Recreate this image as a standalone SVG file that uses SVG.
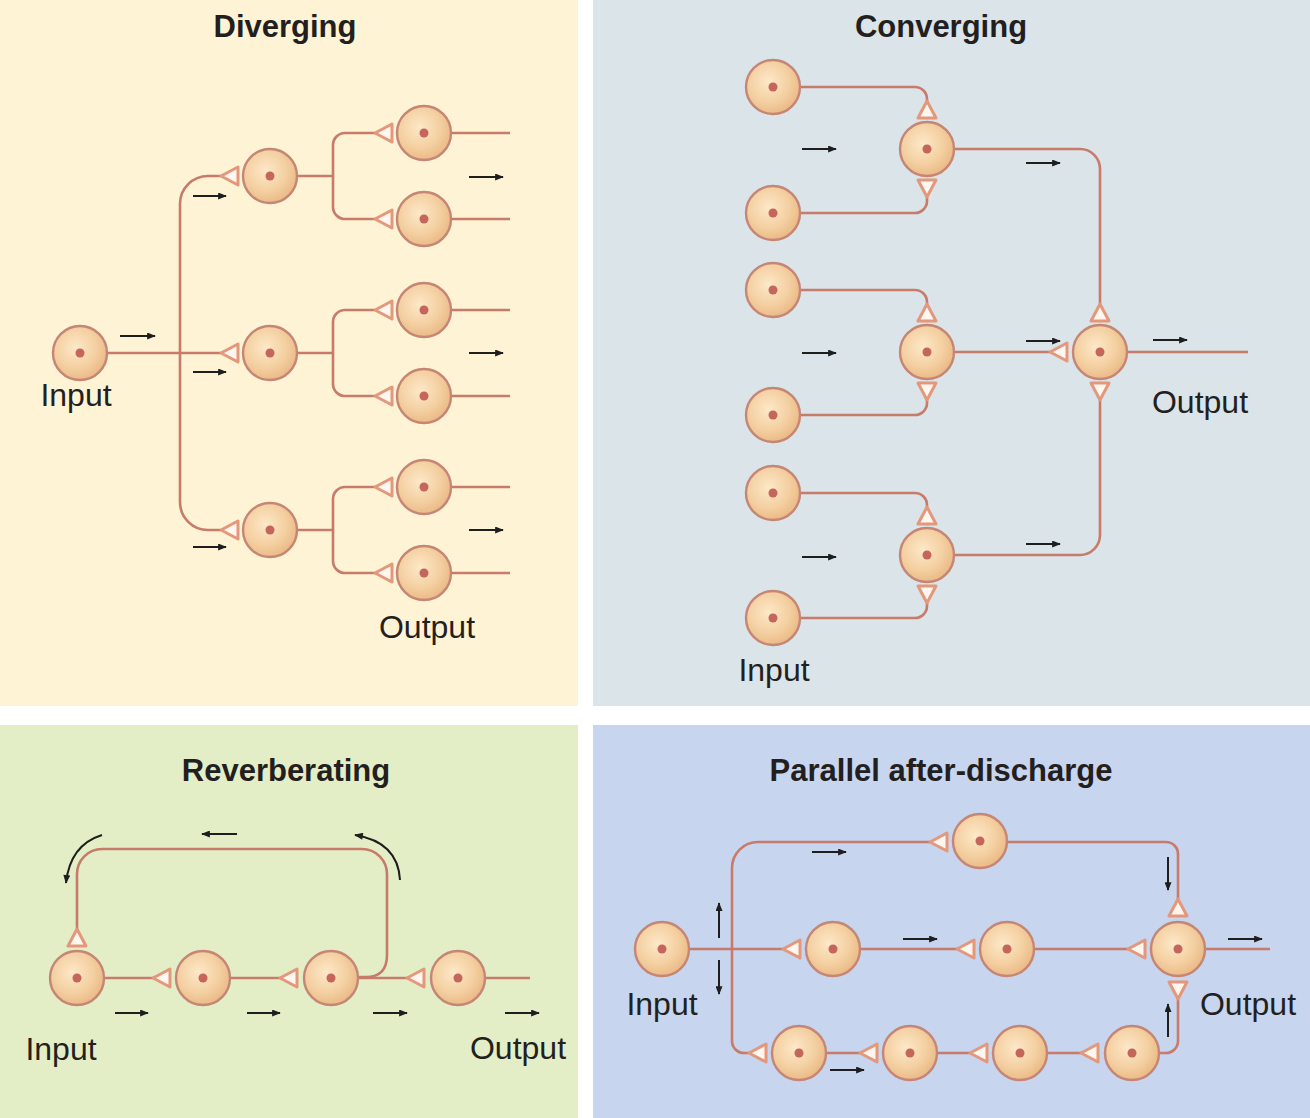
<svg xmlns="http://www.w3.org/2000/svg" width="1310" height="1118" viewBox="0 0 1310 1118">
<defs>
<radialGradient id="soma" cx="0.42" cy="0.4" r="0.62">
<stop offset="0" stop-color="#FDE8C8"/>
<stop offset="0.6" stop-color="#F4D0A2"/>
<stop offset="1" stop-color="#EAB985"/>
</radialGradient>
<g id="neuron">
<circle r="27" fill="url(#soma)" stroke="#C68676" stroke-width="2.4"/>
<circle r="4.5" fill="#C4665C"/>
</g>
<path id="syn" d="M0,0 L17,-9 L17,9 Z" fill="#FFF6F0" stroke="#E3987C" stroke-width="3" stroke-linejoin="round"/>
<marker id="ah" viewBox="0 0 10 8" refX="9" refY="4" markerWidth="10" markerHeight="7" markerUnits="userSpaceOnUse" orient="auto">
<path d="M0,0 L10,4 L0,8 Z" fill="#1E1E1E"/>
</marker>
</defs>
<style>
.axon{fill:none;stroke:#C77B6B;stroke-width:2.6}
.arr{fill:none;stroke:#1E1E1E;stroke-width:2;marker-end:url(#ah)}
.title{font-family:"Liberation Sans",Arial,sans-serif;font-weight:bold;font-size:31px;fill:#231F20;text-anchor:middle}
.lbl{font-family:"Liberation Sans",Arial,sans-serif;font-size:32px;fill:#231F20;text-anchor:middle}
</style>

<!-- panels -->
<rect x="0" y="0" width="1310" height="1118" fill="#FFFFFF"/>
<rect x="0" y="0" width="578" height="706" fill="#FEF3D4"/>
<rect x="593" y="0" width="717" height="706" fill="#DBE4E8"/>
<rect x="0" y="725" width="578" height="393" fill="#E3EEC7"/>
<rect x="593" y="725" width="717" height="393" fill="#C7D5EE"/>

<text class="title" x="285" y="37">Diverging</text>
<text class="title" x="941" y="37">Converging</text>
<text class="title" x="286" y="781">Reverberating</text>
<text class="title" x="941" y="781">Parallel after-discharge</text>

<!-- connectors -->
<g id="connectors">
<!-- Diverging -->
<path class="axon" d="M107,353 H222"/>
<path class="axon" d="M221,176 H208 A28,28 0 0 0 180,204 V502 A28,28 0 0 0 208,530 H221"/>
<path class="axon" d="M297,176 H333 M375,133 H345 A12,12 0 0 0 333,145 V207 A12,12 0 0 0 345,219 H375"/>
<path class="axon" d="M297,353 H333 M375,310 H345 A12,12 0 0 0 333,322 V384 A12,12 0 0 0 345,396 H375"/>
<path class="axon" d="M297,530 H333 M375,487 H345 A12,12 0 0 0 333,499 V561 A12,12 0 0 0 345,573 H375"/>
<path class="axon" d="M451,133 H510 M451,219 H510 M451,310 H510 M451,396 H510 M451,487 H510 M451,573 H510"/>
<use href="#syn" x="221" y="176"/>
<use href="#syn" x="221" y="353"/>
<use href="#syn" x="221" y="530"/>
<use href="#syn" x="375" y="133"/>
<use href="#syn" x="375" y="219"/>
<use href="#syn" x="375" y="310"/>
<use href="#syn" x="375" y="396"/>
<use href="#syn" x="375" y="487"/>
<use href="#syn" x="375" y="573"/>
<path class="arr" d="M120,336 H155"/>
<path class="arr" d="M193,196 H226"/>
<path class="arr" d="M193,372 H226"/>
<path class="arr" d="M193,547 H226"/>
<path class="arr" d="M469,177 H503"/>
<path class="arr" d="M469,353 H503"/>
<path class="arr" d="M469,530 H503"/>

<!-- Converging -->
<path class="axon" d="M800,87 H915 A12,12 0 0 1 927,99 V101 M927,197 V201 A12,12 0 0 1 915,213 H800"/>
<path class="axon" d="M800,290 H915 A12,12 0 0 1 927,302 V304 M927,400 V403 A12,12 0 0 1 915,415 H800"/>
<path class="axon" d="M800,493 H915 A12,12 0 0 1 927,505 V507 M927,603 V606 A12,12 0 0 1 915,618 H800"/>
<path class="axon" d="M954,149 H1080 A20,20 0 0 1 1100,169 V304"/>
<path class="axon" d="M954,352 H1051"/>
<path class="axon" d="M954,555 H1080 A20,20 0 0 0 1100,535 V400"/>
<path class="axon" d="M1127,352 H1248"/>
<use href="#syn" transform="translate(927,101) rotate(90)"/>
<use href="#syn" transform="translate(927,197) rotate(-90)"/>
<use href="#syn" transform="translate(927,304) rotate(90)"/>
<use href="#syn" transform="translate(927,400) rotate(-90)"/>
<use href="#syn" transform="translate(927,507) rotate(90)"/>
<use href="#syn" transform="translate(927,603) rotate(-90)"/>
<use href="#syn" transform="translate(1100,304) rotate(90)"/>
<use href="#syn" transform="translate(1100,400) rotate(-90)"/>
<use href="#syn" x="1050" y="352"/>
<path class="arr" d="M802,149 H836"/>
<path class="arr" d="M802,353 H836"/>
<path class="arr" d="M802,557 H836"/>
<path class="arr" d="M1026,163 H1060"/>
<path class="arr" d="M1026,341 H1060"/>
<path class="arr" d="M1026,544 H1060"/>
<path class="arr" d="M1153,340 H1187"/>

<!-- Reverberating -->
<path class="axon" d="M104,978 H154 M230,978 H281 M358,978 H408 M485,978 H530"/>
<path class="axon" d="M358,977 H366 Q387,977 387,955 V874 A25,25 0 0 0 362,849 H102 A25,25 0 0 0 77,874 V930"/>
<use href="#syn" x="153" y="978"/>
<use href="#syn" x="280" y="978"/>
<use href="#syn" x="407" y="978"/>
<use href="#syn" transform="translate(77,929) rotate(90)"/>
<path class="arr" d="M115,1013 H148"/>
<path class="arr" d="M247,1013 H280"/>
<path class="arr" d="M373,1013 H407"/>
<path class="arr" d="M505,1013 H539"/>
<path class="arr" d="M237,834 H202"/>
<path class="arr" d="M102,835 Q70,845 66,883"/>
<path class="arr" d="M400,880 Q398,842 355,835"/>

<!-- Parallel after-discharge -->
<path class="axon" d="M689,949 H784 M860,949 H958 M1034,949 H1129 M1205,949 H1270"/>
<path class="axon" d="M931,842 H758 A26,26 0 0 0 732,868 V1041 A12,12 0 0 0 744,1053 H750"/>
<path class="axon" d="M1007,842 H1166 A12,12 0 0 1 1178,854 V900"/>
<path class="axon" d="M826,1053 H861 M937,1053 H971 M1047,1053 H1082 M1159,1053 H1166 A12,12 0 0 0 1178,1041 V998"/>
<use href="#syn" x="783" y="949"/>
<use href="#syn" x="957" y="949"/>
<use href="#syn" x="1128" y="949"/>
<use href="#syn" x="930" y="842"/>
<use href="#syn" x="749" y="1053"/>
<use href="#syn" x="860" y="1053"/>
<use href="#syn" x="970" y="1053"/>
<use href="#syn" x="1081" y="1053"/>
<use href="#syn" transform="translate(1178,899) rotate(90)"/>
<use href="#syn" transform="translate(1178,999) rotate(-90)"/>
<path class="arr" d="M719,938 V903"/>
<path class="arr" d="M719,960 V994"/>
<path class="arr" d="M812,852 H846"/>
<path class="arr" d="M903,939 H937"/>
<path class="arr" d="M1228,939 H1262"/>
<path class="arr" d="M1168,857 V890"/>
<path class="arr" d="M1168,1037 V1004"/>
<path class="arr" d="M830,1070 H864"/>
</g>

<!-- Diverging neurons -->
<g id="div-input"><use href="#neuron" x="80" y="353"/></g>
<g id="div-mid1"><use href="#neuron" x="270" y="176"/></g>
<g id="div-mid2"><use href="#neuron" x="270" y="353"/></g>
<g id="div-mid3"><use href="#neuron" x="270" y="530"/></g>
<g id="div-out1"><use href="#neuron" x="424" y="133"/></g>
<g id="div-out2"><use href="#neuron" x="424" y="219"/></g>
<g id="div-out3"><use href="#neuron" x="424" y="310"/></g>
<g id="div-out4"><use href="#neuron" x="424" y="396"/></g>
<g id="div-out5"><use href="#neuron" x="424" y="487"/></g>
<g id="div-out6"><use href="#neuron" x="424" y="573"/></g>
<text class="lbl" x="76" y="406">Input</text>
<text class="lbl" x="427" y="638">Output</text>

<!-- Converging neurons -->
<g id="conv-in1"><use href="#neuron" x="773" y="87"/></g>
<g id="conv-in2"><use href="#neuron" x="773" y="213"/></g>
<g id="conv-in3"><use href="#neuron" x="773" y="290"/></g>
<g id="conv-in4"><use href="#neuron" x="773" y="415"/></g>
<g id="conv-in5"><use href="#neuron" x="773" y="493"/></g>
<g id="conv-in6"><use href="#neuron" x="773" y="618"/></g>
<g id="conv-mid1"><use href="#neuron" x="927" y="149"/></g>
<g id="conv-mid2"><use href="#neuron" x="927" y="352"/></g>
<g id="conv-mid3"><use href="#neuron" x="927" y="555"/></g>
<g id="conv-out"><use href="#neuron" x="1100" y="352"/></g>
<text class="lbl" x="1200" y="413">Output</text>
<text class="lbl" x="774" y="681">Input</text>

<!-- Reverberating neurons -->
<g id="rev-n1"><use href="#neuron" x="77" y="978"/></g>
<g id="rev-n2"><use href="#neuron" x="203" y="978"/></g>
<g id="rev-n3"><use href="#neuron" x="331" y="978"/></g>
<g id="rev-n4"><use href="#neuron" x="458" y="978"/></g>
<text class="lbl" x="61" y="1060">Input</text>
<text class="lbl" x="518" y="1059">Output</text>

<!-- Parallel after-discharge neurons -->
<g id="par-input"><use href="#neuron" x="662" y="949"/></g>
<g id="par-top"><use href="#neuron" x="980" y="841"/></g>
<g id="par-mid1"><use href="#neuron" x="833" y="949"/></g>
<g id="par-mid2"><use href="#neuron" x="1007" y="949"/></g>
<g id="par-out"><use href="#neuron" x="1178" y="949"/></g>
<g id="par-bot1"><use href="#neuron" x="799" y="1053"/></g>
<g id="par-bot2"><use href="#neuron" x="910" y="1053"/></g>
<g id="par-bot3"><use href="#neuron" x="1020" y="1053"/></g>
<g id="par-bot4"><use href="#neuron" x="1132" y="1053"/></g>
<text class="lbl" x="662" y="1015">Input</text>
<text class="lbl" x="1248" y="1015">Output</text>
</svg>
